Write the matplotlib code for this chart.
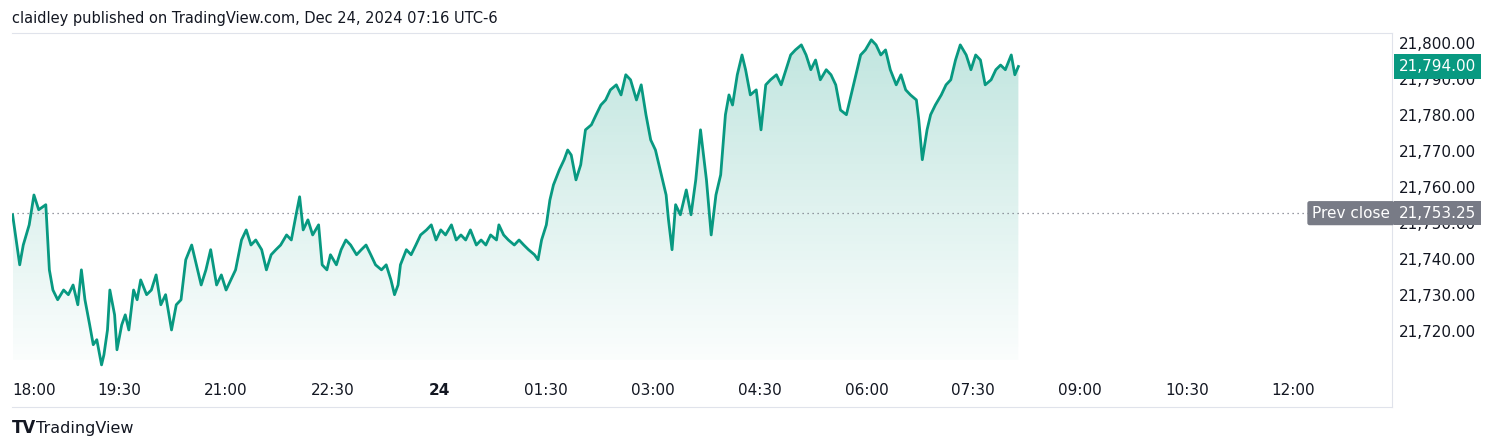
import matplotlib
matplotlib.use("Agg")
import matplotlib.pyplot as plt
import numpy as np
from matplotlib.patches import Polygon

# minutes since Dec 23 18:00 (UTC-6)
minutes = [0,6,9,14,18,22,28,31,34,38,43,47,51,55,58,61,65,68,71,75,77,80,82,86,88,92,95,98,102,105,108,113,117,121,125,129,134,138,142,146,151,155,159,163,167,172,176,180,184,188,193,197,201,205,210,214,218,222,226,231,235,239,242,245,249,253,258,261,265,268,273,277,281,285,290,294,298,302,306,311,315,319,322,325,327,332,336,340,344,349,353,357,361,365,370,374,378,382,386,391,395,399,403,408,410,414,418,423,427,431,435,440,443,446,450,453,456,461,465,468,471,475,479,483,488,492,496,500,504,509,513,517,521,526,530,534,538,542,547,551,553,556,559,563,568,572,576,580,585,589,593,597,601,604,607,611,615,618,622,627,631,635,639,644,648,652,656,660,665,669,673,677,681,686,690,694,698,703,707,711,715,719,724,728,732,736,740,745,749,753,757,762,764,767,771,774,778,783,787,791,795,799,804,808,812,816,820,825,829,833,837,842,845,848]
prices = [21752.8,21738.9,21744.4,21750.0,21758.3,21754.2,21755.6,21737.5,21731.9,21729.2,21731.9,21730.6,21733.3,21727.8,21737.5,21729.2,21722.2,21716.7,21718.1,21711.1,21713.9,21720.8,21731.9,21725.0,21715.3,21722.2,21725.0,21720.8,21731.9,21729.2,21734.7,21730.6,21731.9,21736.1,21727.8,21730.6,21720.8,21727.8,21729.2,21740.3,21744.4,21738.9,21733.3,21737.5,21743.1,21733.3,21736.1,21731.9,21734.7,21737.5,21745.8,21748.6,21744.4,21745.8,21743.1,21737.5,21741.7,21743.1,21744.4,21747.2,21745.8,21752.8,21757.8,21748.6,21751.4,21747.2,21750.0,21738.9,21737.5,21741.7,21738.9,21743.1,21745.8,21744.4,21741.7,21743.1,21744.4,21741.7,21738.9,21737.5,21738.9,21734.7,21730.6,21733.3,21738.9,21743.1,21741.7,21744.4,21747.2,21748.6,21750.0,21745.8,21748.6,21747.2,21750.0,21745.8,21747.2,21745.8,21748.6,21744.4,21745.8,21744.4,21747.2,21745.8,21750.0,21747.2,21745.8,21744.4,21745.8,21744.4,21743.1,21741.7,21740.3,21745.8,21750.0,21756.9,21761.1,21765.3,21768.1,21770.8,21769.4,21762.5,21766.7,21776.4,21777.8,21780.6,21783.3,21784.7,21787.5,21788.9,21786.1,21791.7,21790.3,21784.7,21788.9,21780.6,21773.6,21770.8,21763.9,21758.3,21751.4,21743.1,21755.6,21752.8,21759.7,21752.8,21762.5,21776.4,21762.5,21747.2,21758.3,21763.9,21780.6,21786.1,21783.3,21791.7,21797.2,21793.1,21786.1,21787.5,21776.4,21788.9,21790.3,21791.7,21788.9,21793.1,21797.2,21798.6,21800.0,21797.2,21793.1,21795.8,21790.3,21793.1,21791.7,21788.9,21781.9,21780.6,21786.1,21791.7,21797.2,21798.6,21801.4,21800.0,21797.2,21798.6,21793.1,21788.9,21791.7,21787.5,21786.1,21784.7,21779.2,21768.1,21776.4,21780.6,21783.3,21786.1,21788.9,21790.3,21795.8,21800.0,21797.2,21793.1,21797.2,21795.8,21788.9,21790.3,21793.1,21794.4,21793.1,21797.2,21791.7,21794.0]
tick_minutes = [0,90,180,270,360,450,540,630,720,810,900,1080-90,1080,1170,1260][:0]
x_ticks = [0,90,180,270,360,450,540,630,720,810,900,990,1080]
x_labels = ["18:00","19:30","21:00","22:30","24","01:30","03:00","04:30","06:00","07:30","09:00","10:30","12:00"]
y_ticks = [21720,21730,21740,21750,21760,21770,21780,21790,21800]
prev_close = 21753.25
last_price = 21794.00

W, H = 1500, 448
fig = plt.figure(figsize=(15, 4.48), dpi=100)
L, R, T, B = 12, 1392, 33, 407
ax = fig.add_axes([L/W, 1-B/H, (R-L)/W, (B-T)/H])
green = "#089981"
ax.set_xlim(-0.5, 1163)
ax.set_ylim(21699.4, 21803.3)
fill_bottom = 21712.5

x = np.array(minutes); y = np.array(prices)
img = np.zeros((100, 1, 4))
c = matplotlib.colors.to_rgb(green)
img[..., :3] = c
img[:, 0, 3] = np.linspace(0.25, 0.02, 100)
im = ax.imshow(img, extent=[x[0], x[-1], fill_bottom, max(prices)], origin="upper" if False else "lower",
               aspect="auto", zorder=1)
img[:, 0, 3] = np.linspace(0.02, 0.25, 100)
im.set_data(img)
poly = Polygon(np.column_stack([np.r_[x, x[-1], x[0]], np.r_[y, fill_bottom, fill_bottom]]),
               closed=True, facecolor="none", edgecolor="none", transform=ax.transData)
ax.add_patch(poly)
im.set_clip_path(poly)
ax.plot(x, y, color=green, lw=2, zorder=3, solid_joinstyle="round")
ax.axhline(prev_close, color="#787b86", lw=0.9, ls=(0, (1, 3)), zorder=2)

ax.set_xticks([]); ax.set_yticks([])
for s in ["left"]:
    ax.spines[s].set_visible(False)
for s in ["top", "bottom", "right"]:
    ax.spines[s].set_color("#e0e3eb")

for t, lab in zip(x_ticks, x_labels):
    ax.text(t, 0.045, lab, transform=ax.get_xaxis_transform(), fontsize=11,
            ha="left" if t == 0 else "center", va="center", color="#131722",
            fontweight="bold" if lab == "24" else "normal")
for v in y_ticks:
    ax.text(1.033, v, f"{v:,.2f}", transform=ax.get_yaxis_transform(), fontsize=11,
            ha="center", va="center", color="#131722", clip_on=False)

bb = dict(boxstyle="round,pad=0.3,rounding_size=0.15", fc="#787b86", ec="none")
ax.text(1.033, prev_close, f"{prev_close:,.2f}", transform=ax.get_yaxis_transform(),
        fontsize=11, ha="center", va="center", color="white",
        bbox=dict(boxstyle="square,pad=0.3", fc="#787b86", ec="none"))
ax.text(0.9985, prev_close, "Prev close", transform=ax.get_yaxis_transform(),
        fontsize=11, ha="right", va="center", color="white", bbox=bb)
ax.text(1.033, last_price, f"{last_price:,.2f}", transform=ax.get_yaxis_transform(),
        fontsize=11, ha="center", va="center", color="white",
        bbox=dict(boxstyle="square,pad=0.3", fc=green, ec="none"))

fig.text(12/W, 1-18/H, "claidley published on TradingView.com, Dec 24, 2024 07:16 UTC-6",
         fontsize=10.5, color="#131722", va="center", ha="left")
fig.text(12/W, 1-428/H, "TV", fontsize=12, fontweight="bold", color="#131722", va="center")
fig.text(36/W, 1-428/H, "TradingView", fontsize=11.5, color="#131722", va="center")
fig.savefig("out.png", dpi=100, facecolor="white")
